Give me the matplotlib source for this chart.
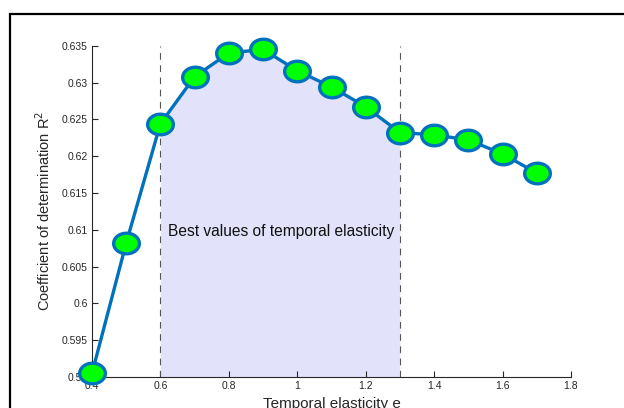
import numpy as np
import matplotlib
matplotlib.use("Agg")
import matplotlib.pyplot as plt
from matplotlib.path import Path
from matplotlib.patches import Rectangle

plt.rcParams["font.family"] = ["Liberation Sans", "DejaVu Sans"]

# data
elasticity = [0.4, 0.5, 0.6, 0.7, 0.8, 0.9, 1.0, 1.1, 1.2, 1.3, 1.4, 1.5, 1.6, 1.7]
r2 = [0.5905, 0.6082, 0.6244, 0.6308, 0.6340, 0.6345, 0.6316, 0.6294,
      0.6267, 0.6232, 0.6229, 0.6222, 0.6203, 0.6177]
best_lo, best_hi = 0.6, 1.3
yticks = [0.59, 0.595, 0.6, 0.605, 0.61, 0.615, 0.62, 0.625, 0.63, 0.635]
ytick_labels = ["0.59", "0.595", "0.6", "0.605", "0.61", "0.615", "0.62", "0.625", "0.63", "0.635"]
xticks = [0.4, 0.6, 0.8, 1.0, 1.2, 1.4, 1.6, 1.8]
xtick_labels = ["0.4", "0.6", "0.8", "1", "1.2", "1.4", "1.6", "1.8"]

x = np.array(elasticity)
y = np.array(r2)

# slightly squashed circle, the source image was stretched
t = np.linspace(0, 2 * np.pi, 60)
ellipse = Path(np.column_stack([np.cos(t), 0.8 * np.sin(t)]), closed=True)

fig = plt.figure(figsize=(6.24, 4.08), dpi=100)
fig.add_artist(Rectangle((10 / 624, -0.1), 1.2, 1 - 14 / 408 + 0.1,
                         transform=fig.transFigure, fill=False,
                         edgecolor="black", linewidth=1.6))
ax = fig.add_axes([92 / 624, 1 - 377 / 408, (571 - 92) / 624, (377 - 45.7) / 408])

ymin = yticks[0]
m = (x >= best_lo) & (x <= best_hi)
ax.fill_between(x[m], ymin, y[m], color="#e2e2fa", linewidth=0, zorder=1)
for xv in (best_lo, best_hi):
    ax.plot([xv, xv], [ymin, yticks[-1]], color="#555555", linestyle=(0, (6, 5)),
            linewidth=0.8, zorder=2)

ax.plot(x, y, color="#0072BD", linewidth=2.4, marker=ellipse, markersize=18.5,
        markerfacecolor="#00ff00", markeredgecolor="#0072BD", markeredgewidth=2.4,
        zorder=3, clip_on=False)

ax.text(0.622, 0.6098, "Best values of temporal elasticity", fontsize=11.2,
        va="center", ha="left", color="#111111", zorder=4)

ax.set_xlim(0.4, 1.8)
ax.set_ylim(ymin, yticks[-1])
ax.set_xticks(xticks)
ax.set_xticklabels(xtick_labels)
ax.set_yticks(yticks)
ax.set_yticklabels(ytick_labels)
ax.tick_params(direction="in", length=4, width=0.8, labelsize=7.5,
               colors="#262626", pad=3)
for s in ("top", "right"):
    ax.spines[s].set_visible(False)
for s in ("left", "bottom"):
    ax.spines[s].set_color("#262626")
    ax.spines[s].set_linewidth(0.8)

ax.set_xlabel("Temporal elasticity e", fontsize=11, color="#262626", labelpad=4)
ax.set_ylabel("Coefficient of determination R$^2$", fontsize=10.5, color="#262626",
              labelpad=6)

fig.savefig("out.png", dpi=100)
